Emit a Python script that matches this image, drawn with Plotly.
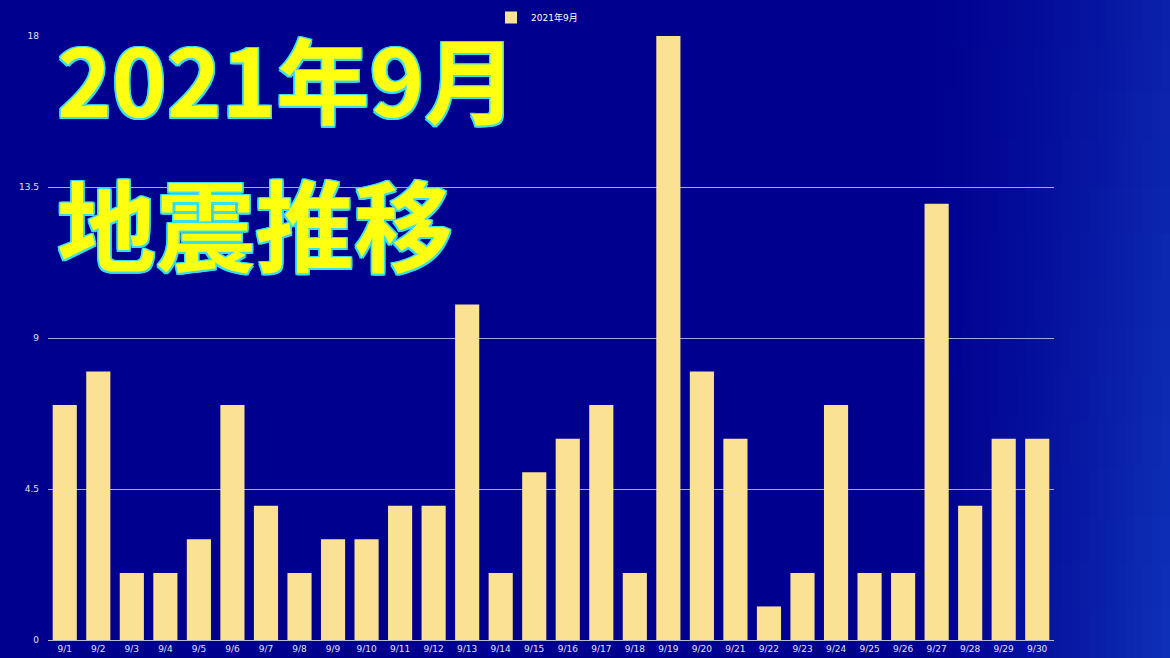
import plotly.graph_objects as go

days = [f"9/{d}" for d in range(1, 31)]
counts = [7, 8, 2, 2, 3, 7, 4, 2, 3, 3, 4, 4, 10, 2, 5, 6, 7, 2, 18, 8,
          6, 1, 2, 7, 2, 2, 13, 4, 6, 6]
series_name = "2021年9月"
y_ticks = [0, 4.5, 9, 13.5, 18]
y_tick_text = ["0", "4.5", "9", "13.5", "18"]
title_line1 = "2021年9月"
title_line2 = "地震推移"

W, H = 1170, 658
ML, MR, MT, MB = 48, 116, 36, 18
PW = W - ML - MR
PH = H - MT - MB

fig = go.Figure()
fig.add_trace(go.Bar(
    x=days, y=counts, name=series_name,
    marker=dict(color="#FAE194", line=dict(width=0)),
    showlegend=True,
))

# background gradient toward the right / bottom-right (grid of rects)
shapes = []
nx, ny = 30, 14
x0px, x1px = 900, W
for i in range(nx):
    a = x0px + (x1px - x0px) * i / nx
    b = x0px + (x1px - x0px) * (i + 1) / nx
    tx = ((i + 0.5) / nx) ** 1.4
    for j in range(ny):
        ta = H * j / ny
        tb = H * (j + 1) / ny
        vy = (j + 0.5) / ny  # 0 top, 1 bottom
        t = tx * (0.75 + 0.35 * vy)
        r = int(14 * t)
        g = int(45 * t)
        bl = int(142 + 40 * t)
        shapes.append(dict(
            type="rect", xref="paper", yref="paper",
            x0=(a - ML) / PW, x1=(b - ML) / PW + 0.002,
            y0=(H - MB - tb) / PH - 0.003, y1=(H - MB - ta) / PH + 0.003,
            fillcolor=f"rgb({r},{g},{bl})", line=dict(width=0), layer="below",
        ))

oc = "#38e0e8"
d = 1.5
outline = ", ".join(f"{oc} {dx}px {dy}px 0px" for dx, dy in
                    [(d, 0), (-d, 0), (0, d), (0, -d), (d, d), (-d, -d), (d, -d), (-d, d)])

annotations = [
    dict(text=f"<b>{title_line1}</b>", xref="paper", yref="paper",
         x=(55 - ML) / PW, y=1 - (76 - MT) / PH,
         xanchor="left", yanchor="middle", showarrow=False,
         font=dict(family="Noto Sans CJK JP", size=93, color="#ffff10",
                   weight=900, shadow=outline)),
    dict(text=f"<b>{title_line2}</b>", xref="paper", yref="paper",
         x=(55 - ML) / PW, y=1 - (221 - MT) / PH,
         xanchor="left", yanchor="middle", showarrow=False,
         font=dict(family="Noto Sans CJK JP", size=99, color="#ffff10",
                   weight=900, shadow=outline)),
]

fig.update_layout(
    width=W, height=H,
    margin=dict(l=ML, r=MR, t=MT, b=MB, autoexpand=False),
    paper_bgcolor="rgb(0,0,142)",
    plot_bgcolor="rgba(0,0,0,0)",
    bargap=0.28,
    shapes=shapes,
    annotations=annotations,
    font=dict(family="DejaVu Sans, Noto Sans CJK JP", color="#e6e6f0", size=9),
    legend=dict(orientation="h", x=0.5 - 14 / PW, xanchor="center",
                y=1 + 33 / PH, yanchor="top",
                font=dict(size=9, color="#ffffff"),
                bgcolor="rgba(0,0,0,0)", itemwidth=30),
    xaxis=dict(type="category", showgrid=False, showline=True,
               linecolor="#b8b8d8", linewidth=1, ticks="", automargin=False,
               tickfont=dict(size=9, color="#e0e0f0"), tickangle=0),
    yaxis=dict(range=[0, 18], tickvals=y_ticks, ticktext=y_tick_text,
               showgrid=True, gridcolor="#a8a8d0", gridwidth=1,
               zeroline=False, showline=False, ticks="", automargin=False,
               ticklabelstandoff=8,
               tickfont=dict(size=9, color="#e0e0f0")),
)

fig.write_html("out.html", config={"displayModeBar": False},
               post_script="document.body.style.margin='0';document.body.style.overflow='hidden';")
